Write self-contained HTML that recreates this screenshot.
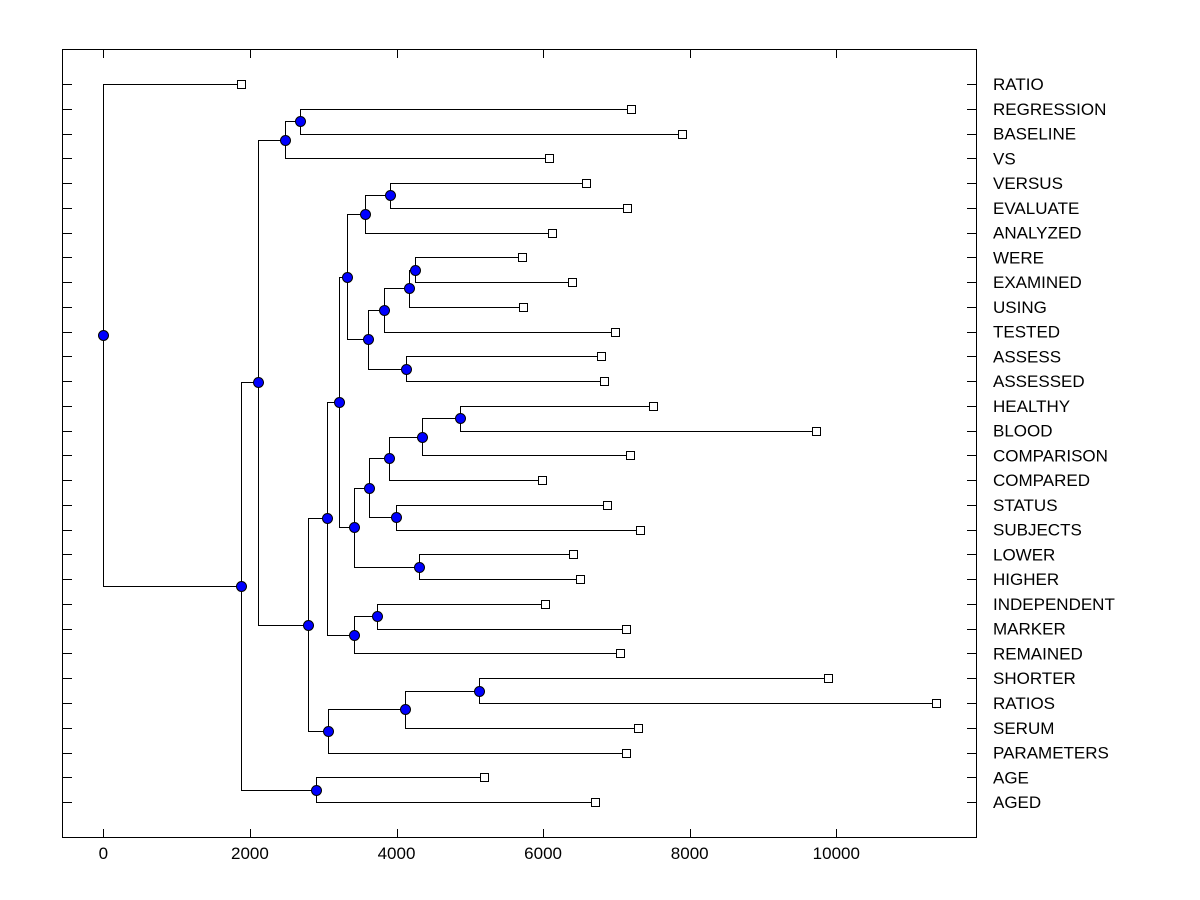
<!DOCTYPE html>
<html><head><meta charset="utf-8"><style>
html,body{margin:0;padding:0;background:#fff;width:1200px;height:900px;overflow:hidden}
svg{display:block}
text{font-family:"Liberation Sans",Arial,sans-serif;font-size:17px;fill:#000}
</style></head><body>
<svg id="chart" width="1200" height="900"></svg>
<script>
// Leaf labels (top to bottom) and their merge heights
const leafLabels = ["RATIO","REGRESSION","BASELINE","VS","VERSUS","EVALUATE","ANALYZED","WERE","EXAMINED","USING","TESTED","ASSESS","ASSESSED","HEALTHY","BLOOD","COMPARISON","COMPARED","STATUS","SUBJECTS","LOWER","HIGHER","INDEPENDENT","MARKER","REMAINED","SHORTER","RATIOS","SERUM","PARAMETERS","AGE","AGED"];
const leafValues = [1885,7199,7896,6079,6585,7145,6120,5710,6393,5724,6981,6790,6831,7500,9727,7186,5984,6872,7322,6407,6503,6025,7131,7049,9891,11366,7295,7131,5191,6708];
// Internal nodes: [id, height, childA, childB]  (children: "L#" leaf index or node id)
const nodeIds =     ["n459","n421","n388","n392","n368","n418","n352b","n414","n408","n383","n405","n367","n389","n364","n347","n339","n376","n352","n326","n478","n404","n327","n307","n299","n284","n258","n315","n240","root"];
const nodeHeights = [4863, 4344, 3893, 3989, 3620, 4303, 3415, 4249, 4167, 3825, 4126, 3607, 3907, 3566, 3320, 3210, 3730, 3415, 3046, 5123, 4112, 3060, 2787, 2678, 2473, 2117, 2896, 1872, 0];
const nodeChildA =  ["L13","n459","n421","L17","n388","L19","n368","L7","n414","n408","L11","n383","L4","n389","n364","n347","L21","n376","n339","L24","n478","n404","n326","L1","n299","n284","L28","n258","L0"];
const nodeChildB =  ["L14","L15","L16","L18","n392","L20","n418","L8","L9","L10","L12","n405","L5","L6","n367","n352b","L22","L23","n352","L25","L26","L27","n327","L2","L3","n307","L29","n315","n240"];
const xTicks = [0,2000,4000,6000,8000,10000];

const L=62,R=976,T=49,B=837;
const xScale=v=>103.3+v*0.0733;
const yScale=i=>84+i*24.76;
const svg=document.getElementById('chart');
const NS='http://www.w3.org/2000/svg';
function mk(tag,attrs){const e=document.createElementNS(NS,tag);for(const k in attrs)e.setAttribute(k,attrs[k]);svg.appendChild(e);return e;}

const fr=mk('rect',{x:L+0.5,y:T+0.5,width:R-L,height:B-T,fill:'none',stroke:'#000','stroke-width':1});



xTicks.forEach(t=>{
  const x=Math.round(xScale(t))+0.5;
  const a=mk('line',{x1:x,x2:x,y1:T,y2:T+9,stroke:'#000'});
  
  
  const b=mk('line',{x1:x,x2:x,y1:B-8,y2:B,stroke:'#000'});
  
  
  const tx=mk('text',{x:xScale(t),y:859,'text-anchor':'middle'});
  tx.textContent=t;
  
  
});

leafLabels.forEach((lab,i)=>{
  const y=Math.round(yScale(i))+0.5;
  const a=mk('line',{x1:L,x2:L+10,y1:y,y2:y,stroke:'#000'});
  
  
  const b=mk('line',{x1:R-9,x2:R,y1:y,y2:y,stroke:'#000'});
  
  
  const tx=mk('text',{x:993,y:yScale(i)+6});
  tx.textContent=lab;
  
  
});

const pos={};
leafLabels.forEach((l,i)=>{pos['L'+i]={x:xScale(leafValues[i]),y:yScale(i),leaf:true};});
nodeIds.forEach((id,k)=>{
  const a=pos[nodeChildA[k]],b=pos[nodeChildB[k]];
  pos[id]={x:xScale(nodeHeights[k]),y:(a.y+b.y)/2,leaf:false};
});
nodeIds.forEach((id,k)=>{
  const p=pos[id];
  [nodeChildA[k],nodeChildB[k]].forEach(c=>{
    const q=pos[c];
    const px=Math.round(p.x)+0.5, qx=Math.round(q.x)+0.5, qy=Math.round(q.y)+0.5, py=Math.round(p.y)+0.5;
    const e=mk('path',{d:`M${px},${py} L${px},${qy} L${qx},${qy}`,fill:'none',stroke:'#000','stroke-width':1});
    
    
  });
});
leafLabels.forEach((l,i)=>{
  const p=pos['L'+i];
  const r=mk('rect',{x:Math.round(p.x)-4+0.5,y:Math.round(p.y)-4+0.5,width:8,height:8,fill:'#fff',stroke:'#000'});
  
  
});
nodeIds.forEach(id=>{
  const p=pos[id];
  const c=mk('circle',{cx:Math.round(p.x)+0.5,cy:Math.round(p.y)+0.5,r:5,fill:'#0000ff',stroke:'#000','stroke-width':1});
  
  
});
</script>
</body></html>
